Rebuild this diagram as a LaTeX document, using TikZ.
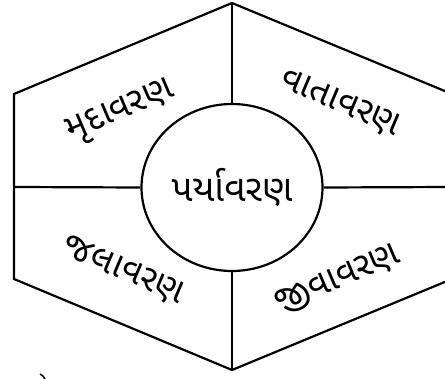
\documentclass[tikz,border=0pt]{standalone}
\usepackage{fontspec}
\usetikzlibrary{shapes.geometric}
\newfontfamily\gujfont[Script=Gujarati]{Noto Sans Gujarati UI}
\begin{document}
\begin{tikzpicture}[x=1pt,y=-1pt,
  edge/.style={line width=2.2pt,line join=miter},
  lbl/.style={font=\gujfont\fontsize{36}{40}\selectfont,inner sep=0pt},
  hub/.style={ellipse,draw,line width=2.2pt,minimum width=181pt,minimum height=167pt,inner sep=0pt,font=\gujfont\fontsize{37}{42}\selectfont}]
\useasboundingbox (0,0) rectangle (445,379);
\clip (0,0) rectangle (445,379);
\coordinate (T) at (232,3);
\coordinate (UR) at (452,94);
\coordinate (LR) at (452,279);
\coordinate (B) at (232,370);
\coordinate (LL) at (14,279);
\coordinate (UL) at (14,94);
\coordinate (ML) at (14,187);
\coordinate (MR) at (452,187);
\draw[edge] (T) -- (UR) -- (LR) -- (B) -- (LL) -- (UL) -- cycle;
\node[hub] (c) at (232,187.5) {પર્યાવરણ};
\draw[edge] (T) -- (c.north);
\draw[edge] (c.south) -- (B);
\draw[edge] (ML) -- (c.west);
\draw[edge] (c.east) -- (MR);
\node[lbl,rotate=23] (a) at (121,113) {મૃદાવરણ};
\node[lbl,rotate=-23] (b) at (340,104) {વાતાવરણ};
\node[lbl,rotate=-23] (d) at (123,271) {જલાવરણ};
\node[lbl,rotate=23] (e) at (338,280) {જીવાવરણ};
\coordinate (m1) at (40,374);
\coordinate (m2) at (45,379);
\draw[line width=1.5pt] (m1) to[bend left=20] (m2);
\end{tikzpicture}
\end{document}
